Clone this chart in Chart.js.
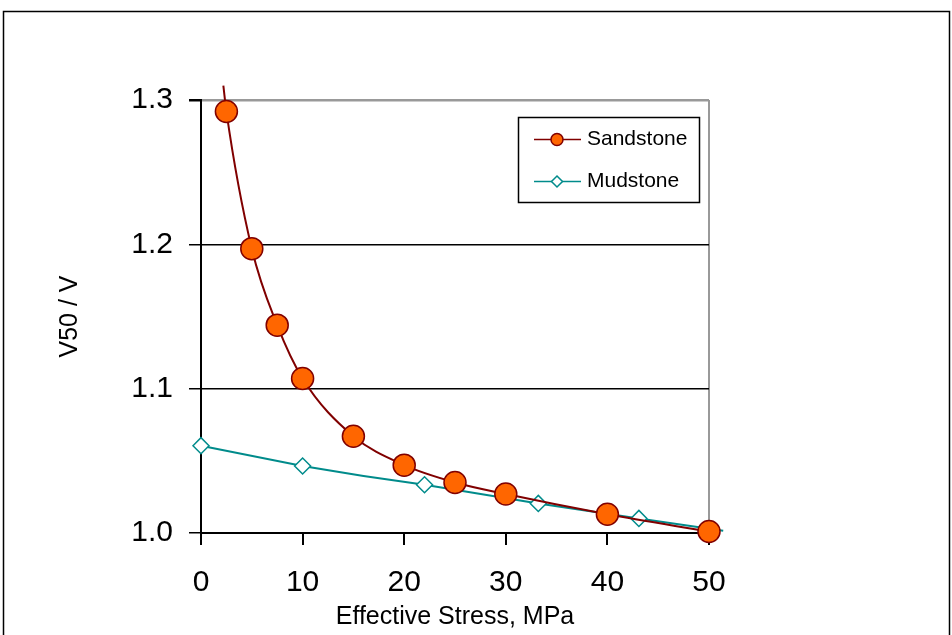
<!DOCTYPE html>
<html>
<head>
<meta charset="utf-8">
<script src="https://cdn.jsdelivr.net/npm/chart.js@4.4.1/dist/chart.umd.min.js"></script>
<style>
  html, body { margin: 0; padding: 0; background: #fff; }
  #wrap { width: 952px; height: 635px; position: relative; }
</style>
</head>
<body>
<div id="wrap"><canvas id="c" width="952" height="635"></canvas></div>
<script>
// ---- Data ----
const seriesNames = ['Sandstone', 'Mudstone'];
const sandX = [2.2, 2.5, 5, 7.5, 10, 15, 20, 25, 30, 40, 50];
const sandY = [1.310, 1.292, 1.197, 1.144, 1.107, 1.067, 1.047, 1.035, 1.027, 1.013, 1.001];
const sandMarked = [false, true, true, true, true, true, true, true, true, true, true];
const mudX = [0, 10, 16, 22, 33.2, 43.1, 51.4];
const mudY = [1.0605, 1.0464, 1.0395, 1.0334, 1.0205, 1.0101, 1.0015];
const mudMarked = [true, true, false, true, true, true, false];
const xTicks = [0, 10, 20, 30, 40, 50];
const yTicks = [1.0, 1.1, 1.2, 1.3];
const xTitle = 'Effective Stress, MPa';
const yTitle = 'V50 / V';

const FONT = "'Liberation Sans', Arial, sans-serif";
const AREA = { left: 201, top: 100, right: 709, bottom: 533 };
const W = 952, H = 635;

const toPts = (xs, ys) => xs.map((x, i) => ({ x: x, y: ys[i] }));

const sandColor = '#800000';
const sandFill = '#FF6600';
const mudColor = '#008B8B';

const frame = {
  id: 'frame',
  beforeDraw(chart) {
    const ctx = chart.ctx;
    ctx.save();
    ctx.fillStyle = '#fff';
    ctx.fillRect(0, 0, W, H);
    ctx.strokeStyle = '#000';
    ctx.lineWidth = 1.5;
    ctx.strokeRect(3.5, 11.5, 946, 700);
    ctx.restore();
  }
};

const legendBox = {
  id: 'legendBox',
  afterDraw(chart) {
    const ctx = chart.ctx;
    ctx.save();
    const bx = 518.5, by = 117.5, bw = 181, bh = 85;
    ctx.fillStyle = '#fff';
    ctx.fillRect(bx, by, bw, bh);
    ctx.strokeStyle = '#000';
    ctx.lineWidth = 1.5;
    ctx.strokeRect(bx, by, bw, bh);
    const rows = [
      { y: 139.5, name: seriesNames[0], color: sandColor, kind: 'circle' },
      { y: 181.5, name: seriesNames[1], color: mudColor, kind: 'diamond' }
    ];
    rows.forEach(r => {
      ctx.strokeStyle = r.color;
      ctx.lineWidth = 1.5;
      ctx.beginPath();
      ctx.moveTo(534, r.y);
      ctx.lineTo(581, r.y);
      ctx.stroke();
      ctx.beginPath();
      if (r.kind === 'circle') {
        ctx.arc(557, r.y, 6, 0, Math.PI * 2);
        ctx.fillStyle = sandFill;
      } else {
        const s = 5.5;
        ctx.moveTo(557, r.y - s);
        ctx.lineTo(557 + s, r.y);
        ctx.lineTo(557, r.y + s);
        ctx.lineTo(557 - s, r.y);
        ctx.closePath();
        ctx.fillStyle = '#fff';
      }
      ctx.fill();
      ctx.stroke();
      ctx.fillStyle = '#000';
      ctx.font = '21px ' + FONT;
      ctx.textBaseline = 'middle';
      ctx.textAlign = 'left';
      ctx.fillText(r.name, 587, r.y);
    });
    ctx.restore();
  }
};

new Chart(document.getElementById('c'), {
  type: 'line',
  data: {
    datasets: [
      {
        label: seriesNames[0],
        data: toPts(sandX, sandY),
        borderColor: sandColor,
        borderWidth: 2,
        backgroundColor: sandFill,
        pointBackgroundColor: sandFill,
        pointBorderColor: sandColor,
        pointBorderWidth: 1.5,
        pointRadius: sandMarked.map(m => m ? 11 : 0),
        pointStyle: 'circle',
        cubicInterpolationMode: 'monotone',
        clip: false,
        fill: false
      },
      {
        label: seriesNames[1],
        data: toPts(mudX, mudY),
        borderColor: mudColor,
        borderWidth: 2,
        backgroundColor: '#fff',
        pointBackgroundColor: '#fff',
        pointBorderColor: mudColor,
        pointBorderWidth: 1.5,
        pointRadius: mudMarked.map(m => m ? 8 : 0),
        pointStyle: 'rectRot',
        tension: 0,
        clip: false,
        fill: false
      }
    ]
  },
  options: {
    responsive: false,
    animation: false,
    devicePixelRatio: 1,
    layout: { padding: { left: 0, top: AREA.top, right: W - AREA.right, bottom: 0 } },
    plugins: {
      legend: { display: false },
      tooltip: { enabled: false }
    },
    scales: {
      x: {
        type: 'linear',
        min: 0,
        max: 50,
        afterFit(s) { s.height = H - AREA.bottom; },
        afterBuildTicks(s) { s.ticks = xTicks.map(v => ({ value: v })); },
        border: { display: true, color: '#000', width: 2 },
        grid: {
          color: c => (c.tick && c.tick.value === 50) ? '#999999' : 'rgba(0,0,0,0)',
          lineWidth: 2,
          tickColor: '#000',
          tickLength: 12,
          drawTicks: true
        },
        ticks: {
          color: '#000',
          font: { family: FONT, size: 30 },
          padding: 20,
          maxRotation: 0,
          callback: v => String(v)
        },
        title: {
          display: true,
          text: xTitle,
          color: '#000',
          font: { family: FONT, size: 25 },
          padding: { top: 0, bottom: 3 }
        }
      },
      y: {
        type: 'linear',
        min: 1.0,
        max: 1.3,
        afterFit(s) { s.width = AREA.left; },
        afterBuildTicks(s) { s.ticks = yTicks.map(v => ({ value: v })); },
        border: { display: true, color: '#000', width: 2 },
        grid: {
          color: c => (c.tick && Math.abs(c.tick.value - 1.3) < 1e-6) ? '#999999' : '#000',
          lineWidth: c => (c.tick && Math.abs(c.tick.value - 1.3) < 1e-6) ? 2.5 : 1.5,
          tickColor: '#000',
          tickLength: 12,
          drawTicks: true
        },
        ticks: {
          color: '#000',
          font: { family: FONT, size: 30 },
          padding: 16,
          callback: v => Number(v).toFixed(1)
        },
        title: {
          display: true,
          text: yTitle,
          color: '#000',
          font: { family: FONT, size: 25 },
          padding: { top: 55, bottom: 0 }
        }
      }
    }
  },
  plugins: [frame, legendBox]
});
</script>
</body>
</html>
